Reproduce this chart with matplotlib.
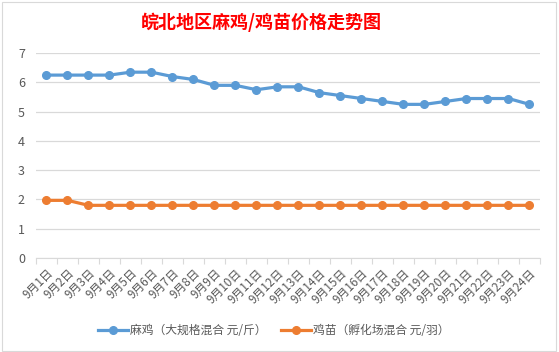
import matplotlib.pyplot as plt
from matplotlib.patches import Rectangle

plt.rcParams['font.family'] = ['Noto Sans CJK SC', 'DejaVu Sans']

dates = [f'9月{d}日' for d in range(1, 25)]
maji = [6.25, 6.25, 6.25, 6.25, 6.35, 6.35, 6.2, 6.1, 5.9, 5.9, 5.75, 5.85,
        5.85, 5.65, 5.55, 5.45, 5.35, 5.25, 5.25, 5.35, 5.45, 5.45, 5.45, 5.25]
jimiao = [1.97, 1.97, 1.8, 1.8, 1.8, 1.8, 1.8, 1.8, 1.8, 1.8, 1.8, 1.8,
          1.8, 1.8, 1.8, 1.8, 1.8, 1.8, 1.8, 1.8, 1.8, 1.8, 1.8, 1.8]

blue = '#5B9BD5'
orange = '#ED7D31'
grey = '#595959'

fig = plt.figure(figsize=(5.59, 3.52), dpi=100)
ax = fig.add_axes([0.0644, 0.267, 0.9016, 0.582])

x = range(len(dates))
ax.plot(x, maji, color=blue, lw=2.3, marker='o', ms=5.5,
        label='麻鸡（大规格混合 元/斤）', zorder=3)
ax.plot(x, jimiao, color=orange, lw=2.3, marker='o', ms=5.5,
        label='鸡苗（孵化场混合 元/羽）', zorder=3)

ax.set_xlim(-0.5, len(dates) - 0.5)
ax.set_ylim(0, 7)
ax.set_yticks(range(0, 8))
ax.grid(axis='y', color='#D9D9D9', lw=0.9)
ax.set_axisbelow(True)
for s in ['top', 'right', 'left']:
    ax.spines[s].set_visible(False)
ax.spines['bottom'].set_color('#D9D9D9')
ax.tick_params(axis='y', length=0, labelsize=9, labelcolor=grey, pad=8)

# category boundary ticks
ax.set_xticks([i - 0.5 for i in range(len(dates) + 1)], minor=False)
ax.set_xticklabels([])
ax.tick_params(axis='x', which='major', length=4, color='#D9D9D9')
ax.set_xticks(list(x), minor=True)
ax.set_xticklabels(dates, minor=True, rotation=45, ha='right', va='top',
                   rotation_mode='anchor', fontsize=8.5, color=grey)
ax.tick_params(axis='x', which='minor', length=0, pad=6)

fig.suptitle('皖北地区麻鸡/鸡苗价格走势图', x=0.467, y=0.965, fontsize=13,
             fontweight='bold', color='#FF0000')

fig.legend(loc='center', bbox_to_anchor=(0.49, 0.06), ncol=2, frameon=False,
           fontsize=8.5, labelcolor=grey, handlelength=2.5, columnspacing=1.2,
           handletextpad=0.2)

fig.patches.append(Rectangle((0.004, 0.004), 0.99, 0.99, transform=fig.transFigure,
                             fill=False, ec='#D9D9D9', lw=0.8))

fig.savefig('out.png', dpi=100)
